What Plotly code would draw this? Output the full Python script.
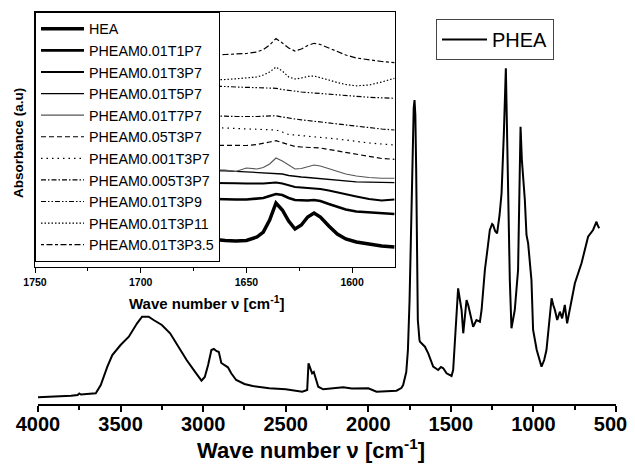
import plotly.graph_objects as go

# ---------------- main spectrum (PHEA) ----------------
phea_wn = [4000, 3950, 3900, 3850, 3800, 3760, 3750, 3740, 3700, 3650, 3620, 3600, 3580, 3550,
           3500, 3450, 3400, 3370, 3330, 3300, 3250, 3200, 3150, 3100, 3050, 3010, 2990, 2970,
           2950, 2935, 2920, 2905, 2890, 2870, 2850, 2830, 2800, 2750, 2700, 2600, 2500, 2400,
           2370, 2362, 2350, 2340, 2330, 2320, 2303, 2273, 2200, 2152, 2100, 2000, 1950, 1900,
           1829, 1800, 1789, 1770, 1760, 1750, 1740, 1730, 1725, 1720, 1715, 1710, 1705, 1700,
           1690, 1687, 1657, 1637, 1607, 1577, 1560, 1546, 1526, 1496, 1486, 1478, 1470, 1456,
           1445, 1435, 1425, 1415, 1405, 1395, 1385, 1365, 1345, 1324, 1314, 1294, 1275, 1264,
           1250, 1244, 1232, 1220, 1205, 1193, 1179, 1167, 1160, 1153, 1143, 1133, 1123, 1113,
           1093, 1085, 1078, 1070, 1052, 1042, 1032, 1012, 1002, 980, 951, 935, 921, 901, 890,
           880, 870, 856, 840, 826, 810, 796, 780, 765, 749, 709, 669, 639, 618, 612, 602]
phea_abs = [0.067, 0.07, 0.073, 0.075, 0.083, 0.09, 0.105, 0.095, 0.10, 0.107, 0.19, 0.29,
            0.373, 0.49, 0.59, 0.673, 0.807, 0.873, 0.873, 0.84, 0.79, 0.707, 0.573, 0.44,
            0.323, 0.233, 0.27, 0.39, 0.54, 0.55, 0.53, 0.52, 0.41, 0.39, 0.367, 0.307, 0.24,
            0.20, 0.18, 0.157, 0.147, 0.123, 0.14, 0.407, 0.34, 0.307, 0.32, 0.27, 0.173,
            0.147, 0.155, 0.167, 0.155, 0.157, 0.123, 0.125, 0.133, 0.16, 0.19, 0.32, 0.54,
            1.04, 1.84, 2.64, 2.96, 3.04, 2.89, 2.34, 1.44, 0.84, 0.64, 0.623, 0.573, 0.507,
            0.373, 0.34, 0.37, 0.357, 0.307, 0.28, 0.34, 0.59, 0.84, 1.157, 1.04, 0.94, 0.707,
            0.92, 1.04, 0.99, 0.907, 0.773, 0.84, 0.823, 0.94, 1.34, 1.59, 1.74, 1.80, 1.79,
            1.73, 1.707, 1.89, 2.107, 2.71, 3.357, 2.74, 2.04, 1.24, 0.757, 0.86, 0.94, 1.34,
            2.04, 2.773, 2.44, 2.04, 1.69, 1.607, 1.24, 0.74, 0.54, 0.373, 0.44, 0.54, 0.873,
            1.057, 0.99, 0.94, 0.84, 0.923, 0.857, 0.99, 0.807, 0.957, 1.09, 1.207, 1.407,
            1.673, 1.74, 1.823, 1.79, 1.757]
main_tickvals = [4000, 3500, 3000, 2500, 2000, 1500, 1000, 500]
main_ticktext = ["4000", "3500", "3000", "2500", "2000", "1500", "1000", "500&nbsp;&nbsp;"]

# ---------------- inset (1750-1580 cm-1) ----------------
inset_wn = [1750, 1720, 1690, 1675, 1665, 1660, 1655, 1650, 1645, 1642, 1639, 1636, 1633,
            1630, 1627, 1624, 1621, 1618, 1615, 1611, 1607, 1603, 1598, 1592, 1586, 1580]
inset_tickvals = [1750, 1700, 1650, 1600]

names = ["HEA", "PHEAM0.01T1P7", "PHEAM0.01T3P7", "PHEAM0.01T5P7", "PHEAM0.01T7P7",
         "PHEAM0.05T3P7", "PHEAM0.001T3P7", "PHEAM0.005T3P7", "PHEAM0.01T3P9",
         "PHEAM0.01T3P11", "PHEAM0.01T3P3.5"]

hea = [0.29, 0.28, 0.275, 0.275, 0.275, 0.265, 0.26, 0.265, 0.30, 0.35, 0.47, 0.64, 0.57,
       0.46, 0.38, 0.42, 0.50, 0.54, 0.50, 0.41, 0.33, 0.28, 0.25, 0.23, 0.21, 0.20]
t1p7 = [0.70, 0.69, 0.685, 0.68, 0.68, 0.675, 0.675, 0.675, 0.68, 0.69, 0.71, 0.73, 0.72,
        0.69, 0.67, 0.665, 0.665, 0.67, 0.66, 0.63, 0.60, 0.575, 0.555, 0.545, 0.535, 0.53]
t3p7 = [0.86, 0.855, 0.85, 0.845, 0.843, 0.84, 0.837, 0.835, 0.832, 0.835, 0.84, 0.845,
        0.835, 0.815, 0.80, 0.795, 0.79, 0.787, 0.78, 0.765, 0.745, 0.725, 0.705, 0.68,
        0.665, 0.675]
t5p7 = [0.99, 0.98, 0.975, 0.97, 0.968, 0.962, 0.957, 0.952, 0.948, 0.945, 0.942, 0.94,
        0.93, 0.915, 0.905, 0.90, 0.895, 0.89, 0.885, 0.875, 0.865, 0.858, 0.852, 0.848,
        0.845, 0.843]
t7p7 = [0.99, 0.985, 0.98, 0.978, 0.975, 0.97, 0.955, 0.99, 0.98, 0.995, 1.03, 1.09, 1.06,
        1.02, 0.98, 0.985, 1.005, 1.02, 1.01, 0.985, 0.955, 0.93, 0.91, 0.895, 0.888, 0.887]
m005 = [1.23, 1.225, 1.22, 1.215, 1.213, 1.213, 1.213, 1.215, 1.225, 1.235, 1.25, 1.263,
        1.245, 1.22, 1.205, 1.20, 1.197, 1.197, 1.19, 1.175, 1.16, 1.145, 1.125, 1.10,
        1.085, 1.077]
m0001 = [1.41, 1.405, 1.40, 1.395, 1.393, 1.39, 1.385, 1.38, 1.375, 1.372, 1.37, 1.37,
         1.35, 1.325, 1.32, 1.315, 1.31, 1.305, 1.30, 1.29, 1.28, 1.27, 1.255, 1.24, 1.23,
         1.22]
m0005 = [1.53, 1.525, 1.52, 1.515, 1.51, 1.508, 1.505, 1.503, 1.505, 1.508, 1.512, 1.513,
         1.50, 1.488, 1.48, 1.472, 1.465, 1.455, 1.45, 1.44, 1.43, 1.42, 1.405, 1.39, 1.38,
         1.37]
p9 = [1.83, 1.825, 1.815, 1.81, 1.81, 1.805, 1.80, 1.795, 1.79, 1.788, 1.787, 1.787, 1.775,
      1.765, 1.757, 1.75, 1.745, 1.74, 1.735, 1.727, 1.72, 1.712, 1.705, 1.697, 1.692, 1.687]
p11 = [1.86, 1.86, 1.865, 1.868, 1.87, 1.875, 1.882, 1.888, 1.90, 1.92, 1.95, 2.00, 1.96,
       1.90, 1.88, 1.89, 1.905, 1.91, 1.895, 1.87, 1.845, 1.825, 1.812, 1.82, 1.85, 1.887]
p35 = [2.10, 2.105, 2.11, 2.115, 2.12, 2.125, 2.13, 2.135, 2.15, 2.175, 2.22, 2.285, 2.24,
       2.19, 2.16, 2.18, 2.215, 2.237, 2.225, 2.19, 2.16, 2.12, 2.09, 2.07, 2.055, 2.043]

series = [hea, t1p7, t3p7, t5p7, t7p7, m005, m0001, m0005, p9, p11, p35]
styles = [
    dict(width=3.5, color="black", dash="solid"),
    dict(width=2.6, color="black", dash="solid"),
    dict(width=1.9, color="black", dash="solid"),
    dict(width=1.3, color="black", dash="solid"),
    dict(width=1.1, color="#555555", dash="solid"),
    dict(width=1.2, color="black", dash="5px,3px"),
    dict(width=1.2, color="black", dash="1.5px,4px"),
    dict(width=1.2, color="black", dash="5px,2px,1.5px,2px"),
    dict(width=1.2, color="black", dash="5px,2px,1.5px,2px,1.5px,2px"),
    dict(width=1.2, color="black", dash="1.5px,2px"),
    dict(width=1.2, color="black", dash="3px,2.5px,6px,2.5px"),
]

FONT = "Liberation Sans, Arial, sans-serif"

fig = go.Figure()
fig.add_trace(go.Scatter(x=phea_wn, y=phea_abs, mode="lines", name="PHEA",
                         line=dict(color="black", width=2), xaxis="x", yaxis="y",
                         legend="legend2"))
for nm, ys, st in zip(names, series, styles):
    fig.add_trace(go.Scatter(x=inset_wn, y=ys, mode="lines", name=nm, line=st,
                             xaxis="x2", yaxis="y2", legend="legend"))

# page has an 8px body margin: figure coordinates = page coordinates - OFF
OFF = 8
W, H = 635 - OFF, 472 - OFF
L, R, T, B = 30 - OFF, 19, 0, 68
pw, ph = W - L - R, H - T - B


def px(xp):  # page pixel -> paper fraction
    return (xp - OFF - L) / pw


def py(yp):
    return (H - B - (yp - OFF)) / ph


fig.update_layout(
    template="none",
    width=W, height=H,
    margin=dict(l=L, r=R, t=T, b=B, autoexpand=False),
    plot_bgcolor="white", paper_bgcolor="white",
    font=dict(family=FONT, color="black"),
    xaxis=dict(domain=[px(38), 1], range=[4000, 500], anchor="y", automargin=False,
               showline=True, linecolor="black", linewidth=2,
               ticks="outside", ticklen=6, tickwidth=1.5, tickcolor="black",
               tickvals=main_tickvals, ticktext=main_ticktext,
               ticklabelstandoff=-5, ticklabeloverflow="allow",
               minor=dict(ticks="outside", ticklen=4, tickwidth=1.5, tickcolor="black",
                          dtick=250, showgrid=False),
               tickfont=dict(size=20, weight="bold", family=FONT),
               showgrid=False, zeroline=False),
    yaxis=dict(domain=[0, 1], range=[0, 3.96], visible=False, anchor="x",
               automargin=False, showgrid=False, zeroline=False),
    xaxis2=dict(domain=[px(35), px(395)], range=[1750, 1579.7], anchor="y2",
                automargin=False,
                showline=True, mirror=True, linecolor="black", linewidth=1,
                ticks="outside", ticklen=5, tickwidth=1, tickcolor="black",
                tickvals=inset_tickvals,
                minor=dict(ticks="outside", ticklen=3, tickwidth=1, tickcolor="black",
                           dtick=25, showgrid=False),
                tickfont=dict(size=10.5, weight="bold", family=FONT),
                showgrid=False, zeroline=False),
    yaxis2=dict(domain=[py(267), py(12)], range=[0, 2.55], anchor="x2",
                automargin=False,
                showline=True, mirror=True, linecolor="black", linewidth=1,
                showticklabels=False, ticks="", showgrid=False, zeroline=False),
    legend=dict(x=px(35), y=py(12), xanchor="left", yanchor="top",
                bgcolor="white", bordercolor="black", borderwidth=1,
                font=dict(size=14.3, family=FONT), itemwidth=43, traceorder="normal"),
    legend2=dict(x=px(436), y=py(19), xanchor="left", yanchor="top",
                 bgcolor="white", bordercolor="#444444", borderwidth=1,
                 font=dict(size=20, family=FONT), itemwidth=45),
    annotations=[
        dict(text="<b>Wave number ν [cm<sup>-1</sup>]</b>", xref="paper", yref="paper",
             x=px(311), y=py(449), xanchor="center", yanchor="middle", showarrow=False,
             font=dict(size=22, family=FONT)),
        dict(text="<b>Wave number ν [cm<sup>-1</sup>]</b>", xref="paper", yref="paper",
             x=px(207), y=py(302), xanchor="center", yanchor="middle", showarrow=False,
             font=dict(size=15, family=FONT)),
        dict(text="<b>Absorbance (a.u)</b>", xref="paper", yref="paper",
             x=px(18), y=py(143), xanchor="center", yanchor="middle", showarrow=False,
             textangle=-90, font=dict(size=13.5, family=FONT)),
    ],
)

fig.write_html("out.html")
